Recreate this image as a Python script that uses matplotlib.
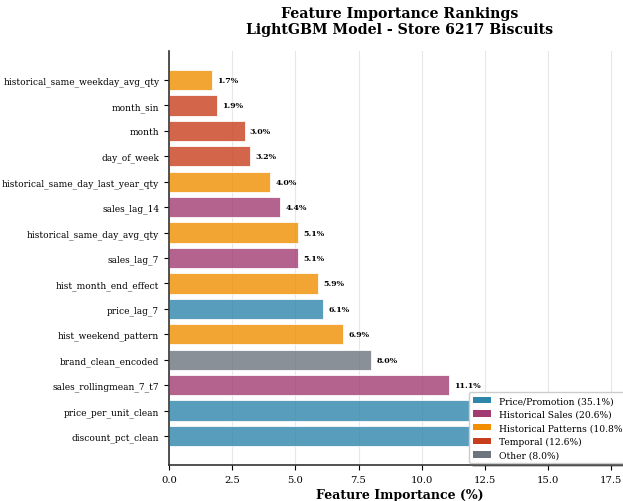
import numpy as np
import matplotlib
matplotlib.use('Agg')
import matplotlib.pyplot as plt
from matplotlib.patches import Patch

plt.rcParams['font.family'] = 'DejaVu Serif'

# Features, largest first (drawn bottom to top)
features = ['discount_pct_clean', 'price_per_unit_clean', 'sales_rollingmean_7_t7',
            'brand_clean_encoded', 'hist_weekend_pattern', 'price_lag_7',
            'hist_month_end_effect', 'sales_lag_7', 'historical_same_day_avg_qty',
            'sales_lag_14', 'historical_same_day_last_year_qty', 'day_of_week',
            'month', 'month_sin', 'historical_same_weekday_avg_qty']
importance = [15.9, 13.1, 11.1, 8.0, 6.9, 6.1, 5.9, 5.1, 5.1, 4.4, 4.0, 3.2, 3.0, 1.9, 1.7]
groups = ['Price/Promotion', 'Price/Promotion', 'Historical Sales', 'Other',
          'Historical Patterns', 'Price/Promotion', 'Historical Patterns', 'Historical Sales',
          'Historical Patterns', 'Historical Sales', 'Historical Patterns', 'Temporal',
          'Temporal', 'Temporal', 'Historical Patterns']

group_names = ['Price/Promotion', 'Historical Sales', 'Historical Patterns', 'Temporal', 'Other']
group_totals = [35.1, 20.6, 10.8, 12.6, 8.0]
group_colors = {'Price/Promotion': '#2E86AB', 'Historical Sales': '#A23B72',
                'Historical Patterns': '#F18F01', 'Temporal': '#C73E1D', 'Other': '#6C757D'}

fig = plt.figure(figsize=(6.23, 5.02), dpi=100)
ax = fig.add_axes([0.2713, 0.0717, 0.7416, 0.8247])

y = np.arange(len(features))
colors = [group_colors[g] for g in groups]
ax.barh(y, importance, height=0.8, color=colors, alpha=0.8, edgecolor='white', linewidth=0.7)

for yi, v in zip(y, importance):
    ax.text(v + 0.2, yi, f'{v:.1f}%', va='center', ha='left', fontsize=5.7, fontweight='bold')

ax.set_yticks(y)
ax.set_yticklabels(features, fontsize=6.5)
ax.tick_params(axis='x', labelsize=7.2)
ax.set_xlim(0, max(importance) * 1.15)
ax.set_xlabel('Feature Importance (%)', fontsize=9, fontweight='bold', labelpad=3)
ax.set_title('Feature Importance Rankings\nLightGBM Model - Store 6217 Biscuits',
             fontsize=10.2, fontweight='bold', pad=13)

ax.grid(axis='x', alpha=0.3)
ax.set_axisbelow(True)
ax.spines['top'].set_visible(False)
ax.spines['right'].set_visible(False)
ax.spines['left'].set_color('#333333')
ax.spines['bottom'].set_color('#333333')
ax.spines['left'].set_linewidth(1.2)
ax.spines['bottom'].set_linewidth(1.2)

handles = [Patch(facecolor=group_colors[g], label=f'{g} ({t}%)') for g, t in zip(group_names, group_totals)]
ax.legend(handles=handles, loc='lower right', fontsize=6.6, frameon=True, fancybox=True,
          shadow=True, borderaxespad=0.2)

fig.savefig('out.png', dpi=100)
